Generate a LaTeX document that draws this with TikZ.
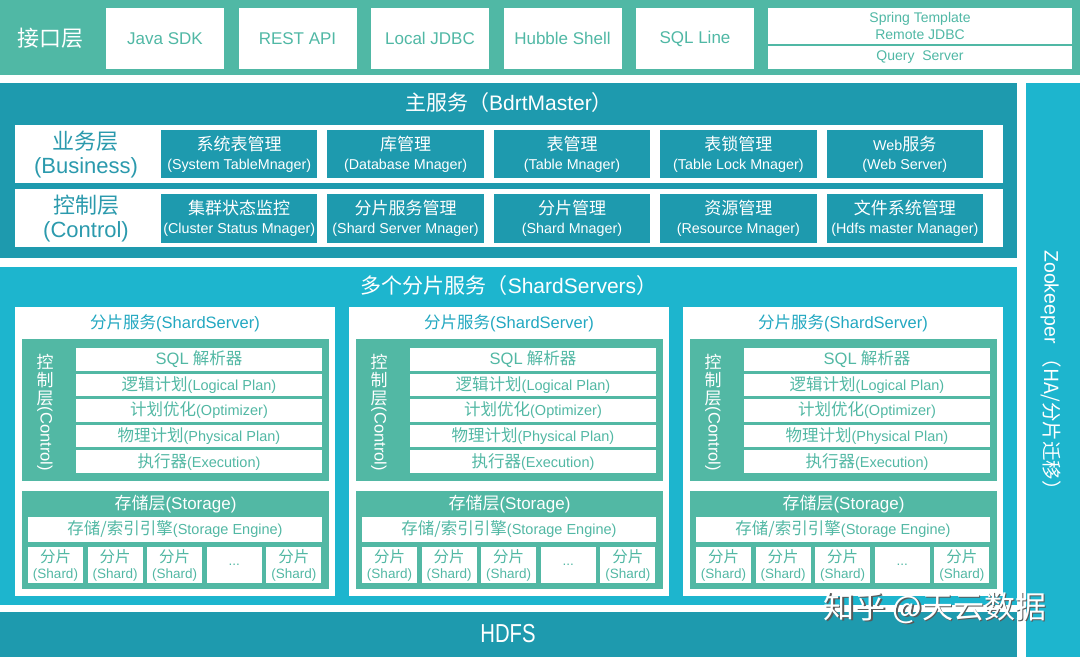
\documentclass[tikz,border=0pt]{standalone}
\usepackage{fontspec}
\setmainfont{Liberation Sans}
\newfontfamily\cjk{Noto Sans CJK SC}
\newfontfamily\narrowsans[FakeStretch=0.78]{Liberation Sans}
\usepackage{tikz}

\definecolor{apigreen}{HTML}{50B8A5}
\definecolor{masterblue}{HTML}{1E9AAE}
\definecolor{shardcyan}{HTML}{1DB5CE}
\definecolor{ctrlgreen}{HTML}{52B8A4}
\definecolor{labelblue}{HTML}{2B9AAD}
\definecolor{titlecyan}{HTML}{22A8C1}

\newcommand\zh[2][17]{{\cjk\fontsize{#1}{#1}\selectfont #2}}

\tikzset{
	apibox/.style={fill=white, text=apigreen, minimum width=118, minimum height=61, inner sep=0, node distance=132.5, font=\fontsize{17}{20}\selectfont},
	mgrbox/.style={fill=masterblue, text=white, minimum width=156.4, minimum height=48, inner sep=0, align=center, node distance=166.4, font=\fontsize{14.3}{19}\selectfont},
	layerlabel/.style={text=labelblue, align=center, font=\fontsize{22}{24}\selectfont},
	bigtitle/.style={text=white, font=\fontsize{21}{24}\selectfont},
	srvtitle/.style={text=titlecyan, font=\fontsize{16.5}{18}\selectfont},
	vlabel/.style={text=white, align=center, inner sep=0, font=\cjk\fontsize{17}{18}\selectfont},
	vlabelen/.style={text=white, rotate=-90, inner sep=0, font=\fontsize{16.5}{18}\selectfont},
	planrow/.style={fill=white, text=ctrlgreen, minimum width=246, minimum height=22.6, inner sep=0, node distance=25.6, font=\fontsize{14.5}{17}\selectfont},
	storetitle/.style={text=white, font=\fontsize{17}{19}\selectfont},
	enginerow/.style={fill=white, text=ctrlgreen, minimum width=294, minimum height=25, inner sep=0, font=\fontsize{14.5}{17}\selectfont},
	shardbox/.style={fill=white, text=ctrlgreen, minimum width=55, minimum height=36, inner sep=0, align=center, node distance=59.6, font=\fontsize{13.5}{16}\selectfont}
}

\begin{document}
\begin{tikzpicture}[x=1pt, y=-1pt]
	\useasboundingbox [fill=white] (0,0) rectangle (1080,657);

	% Interface layer

	\fill[apigreen] (0,0) rectangle (1080,75);
	\node (api) [text=white, font=\cjk\fontsize{22}{24}\selectfont] at (50,38) {接口层};
	\node (java) [apibox] at (165,38.5) {Java SDK};
	\node (rest) [apibox, right of=java] {REST API};
	\node (jdbc) [apibox, right of=rest] {Local JDBC};
	\node (hubble) [apibox, right of=jdbc] {Hubble Shell};
	\node (sqlline) [apibox, right of=hubble] {SQL Line};
	\node (spring) [apibox, minimum width=304, minimum height=36, align=center, font=\fontsize{14}{16.5}\selectfont] at (920,26) {Spring Template\\Remote JDBC};
	\node (query) [apibox, minimum width=304, minimum height=23, font=\fontsize{14}{16}\selectfont] at (920,57.5) {Query\ \ Server};

	% Master

	\fill[masterblue] (0,83) rectangle (1017,258);
	\node (master) [bigtitle] at (509,103) {\zh[21]{主服务（}BdrtMaster\zh[21]{）}};
	\fill[white] (15,125) rectangle (1003,183);
	\fill[white] (15,189) rectangle (1003,247);

	\node (business) [layerlabel] at (86,155) {\zh[22]{业务层}\\(Business)};
	\node (sysmgr) [mgrbox] at (239.2,154) {\zh{系统表管理}\\(System TableMnager)};
	\node (dbmgr) [mgrbox, right of=sysmgr] {\zh{库管理}\\(Database Mnager)};
	\node (tblmgr) [mgrbox, right of=dbmgr] {\zh{表管理}\\(Table Mnager)};
	\node (lockmgr) [mgrbox, right of=tblmgr] {\zh{表锁管理}\\(Table Lock Mnager)};
	\node (websrv) [mgrbox, right of=lockmgr] {Web\zh{服务}\\(Web Server)};

	\node (control) [layerlabel] at (86,219) {\zh[22]{控制层}\\(Control)};
	\node (clustermgr) [mgrbox, minimum height=49] at (239.2,218.5) {\zh{集群状态监控}\\(Cluster Status Mnager)};
	\node (srvmgr) [mgrbox, minimum height=49, right of=clustermgr] {\zh{分片服务管理}\\(Shard Server Mnager)};
	\node (shardmgr) [mgrbox, minimum height=49, right of=srvmgr] {\zh{分片管理}\\(Shard Mnager)};
	\node (resmgr) [mgrbox, minimum height=49, right of=shardmgr] {\zh{资源管理}\\(Resource Mnager)};
	\node (hdfsmgr) [mgrbox, minimum height=49, right of=resmgr] {\zh{文件系统管理}\\(Hdfs master Manager)};

	% Shard servers

	\fill[shardcyan] (0,267) rectangle (1017,605);
	\node (servers) [bigtitle] at (509,286) {\zh[21]{多个分片服务（}ShardServers\zh[21]{）}};

	\begin{scope}
		\fill[white] (15,307) rectangle (335,596);
		\node (S1title) [srvtitle] at (175,323) {\zh[16.5]{分片服务}(ShardServer)};
		\fill[ctrlgreen] (22,339) rectangle (329,481);
		\node (S1ctrl) [vlabel] at (45,380) {控\\制\\层};
		\node (S1ctrlen) [vlabelen] at (45,439) {(Control)};
		\node (S1sql) [planrow] at (199,359.3) {{\fontsize{16.5}{17}\selectfont SQL} \zh[16.5]{解析器}};
		\node (S1logic) [planrow, below of=S1sql] {\zh[16.5]{逻辑计划}(Logical Plan)};
		\node (S1opt) [planrow, below of=S1logic] {\zh[16.5]{计划优化}(Optimizer)};
		\node (S1phys) [planrow, below of=S1opt] {\zh[16.5]{物理计划}(Physical Plan)};
		\node (S1exec) [planrow, below of=S1phys] {\zh[16.5]{执行器}(Execution)};
		\fill[ctrlgreen] (22,491) rectangle (329,589);
		\node (S1store) [storetitle] at (175.5,504) {\zh{存储层}(Storage)};
		\node (S1engine) [enginerow] at (175,529.5) {\zh[16.5]{存储/索引引擎}(Storage Engine)};
		\node (S1sa) [shardbox] at (55.5,565) {\zh[15.5]{分片}\\(Shard)};
		\node (S1sb) [shardbox, right of=S1sa] {\zh[15.5]{分片}\\(Shard)};
		\node (S1sc) [shardbox, right of=S1sb] {\zh[15.5]{分片}\\(Shard)};
		\node (S1dots) [shardbox, right of=S1sc] {...};
		\node (S1sd) [shardbox, right of=S1dots] {\zh[15.5]{分片}\\(Shard)};
	\end{scope}

	\begin{scope}[xshift=334]
		\fill[white] (15,307) rectangle (335,596);
		\node (S2title) [srvtitle] at (175,323) {\zh[16.5]{分片服务}(ShardServer)};
		\fill[ctrlgreen] (22,339) rectangle (329,481);
		\node (S2ctrl) [vlabel] at (45,380) {控\\制\\层};
		\node (S2ctrlen) [vlabelen] at (45,439) {(Control)};
		\node (S2sql) [planrow] at (199,359.3) {{\fontsize{16.5}{17}\selectfont SQL} \zh[16.5]{解析器}};
		\node (S2logic) [planrow, below of=S2sql] {\zh[16.5]{逻辑计划}(Logical Plan)};
		\node (S2opt) [planrow, below of=S2logic] {\zh[16.5]{计划优化}(Optimizer)};
		\node (S2phys) [planrow, below of=S2opt] {\zh[16.5]{物理计划}(Physical Plan)};
		\node (S2exec) [planrow, below of=S2phys] {\zh[16.5]{执行器}(Execution)};
		\fill[ctrlgreen] (22,491) rectangle (329,589);
		\node (S2store) [storetitle] at (175.5,504) {\zh{存储层}(Storage)};
		\node (S2engine) [enginerow] at (175,529.5) {\zh[16.5]{存储/索引引擎}(Storage Engine)};
		\node (S2sa) [shardbox] at (55.5,565) {\zh[15.5]{分片}\\(Shard)};
		\node (S2sb) [shardbox, right of=S2sa] {\zh[15.5]{分片}\\(Shard)};
		\node (S2sc) [shardbox, right of=S2sb] {\zh[15.5]{分片}\\(Shard)};
		\node (S2dots) [shardbox, right of=S2sc] {...};
		\node (S2sd) [shardbox, right of=S2dots] {\zh[15.5]{分片}\\(Shard)};
	\end{scope}

	\begin{scope}[xshift=668]
		\fill[white] (15,307) rectangle (335,596);
		\node (S3title) [srvtitle] at (175,323) {\zh[16.5]{分片服务}(ShardServer)};
		\fill[ctrlgreen] (22,339) rectangle (329,481);
		\node (S3ctrl) [vlabel] at (45,380) {控\\制\\层};
		\node (S3ctrlen) [vlabelen] at (45,439) {(Control)};
		\node (S3sql) [planrow] at (199,359.3) {{\fontsize{16.5}{17}\selectfont SQL} \zh[16.5]{解析器}};
		\node (S3logic) [planrow, below of=S3sql] {\zh[16.5]{逻辑计划}(Logical Plan)};
		\node (S3opt) [planrow, below of=S3logic] {\zh[16.5]{计划优化}(Optimizer)};
		\node (S3phys) [planrow, below of=S3opt] {\zh[16.5]{物理计划}(Physical Plan)};
		\node (S3exec) [planrow, below of=S3phys] {\zh[16.5]{执行器}(Execution)};
		\fill[ctrlgreen] (22,491) rectangle (329,589);
		\node (S3store) [storetitle] at (175.5,504) {\zh{存储层}(Storage)};
		\node (S3engine) [enginerow] at (175,529.5) {\zh[16.5]{存储/索引引擎}(Storage Engine)};
		\node (S3sa) [shardbox] at (55.5,565) {\zh[15.5]{分片}\\(Shard)};
		\node (S3sb) [shardbox, right of=S3sa] {\zh[15.5]{分片}\\(Shard)};
		\node (S3sc) [shardbox, right of=S3sb] {\zh[15.5]{分片}\\(Shard)};
		\node (S3dots) [shardbox, right of=S3sc] {...};
		\node (S3sd) [shardbox, right of=S3dots] {\zh[15.5]{分片}\\(Shard)};
	\end{scope}

	% Zookeeper and HDFS

	\fill[shardcyan] (1026,83) rectangle (1080,657);
	\node (zk) [rotate=-90, text=white, font=\fontsize{19.5}{21}\selectfont] at (1051,375) {Zookeeper \zh[19.5]{（HA/分片迁移）}};

	\fill[masterblue] (0,612) rectangle (1017,657);
	\node (hdfs) [text=white, font=\narrowsans\fontsize{26}{28}\selectfont] at (508,634) {HDFS};

	\node (wmshade) [text=black!65, font=\cjk\fontsize{31}{33}\selectfont] at (936.5,609.5) {知乎 @天云数据};
	\node (wm) [text=white, font=\cjk\fontsize{31}{33}\selectfont] at (935,608) {知乎 @天云数据};

\end{tikzpicture}
\end{document}
